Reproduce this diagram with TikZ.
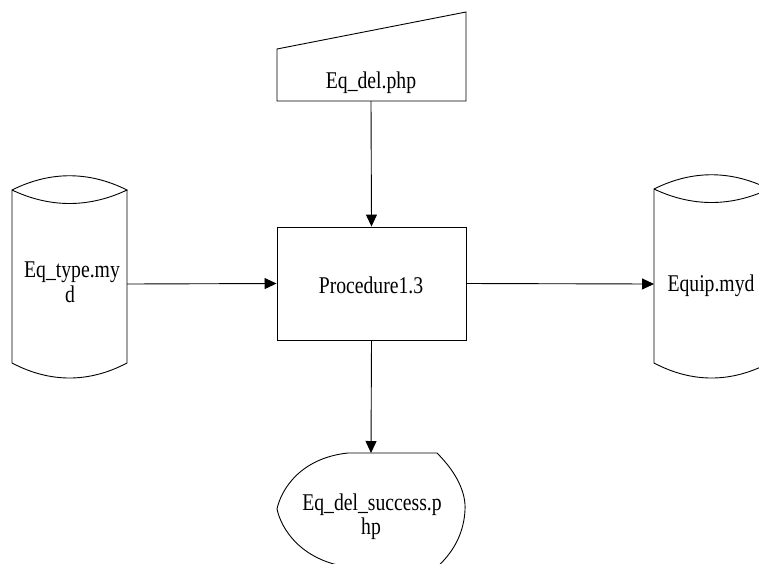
\documentclass[tikz,border=0pt]{standalone}
\usepackage{fontspec}
\setmainfont{Liberation Serif}[FakeStretch=0.82]
\usetikzlibrary{arrows.meta}
\begin{document}
\begin{tikzpicture}[x=1pt,y=-1pt,
  shp/.style={draw=black,line width=0.9pt,line join=miter},
  lbl/.style={font=\fontsize{24}{24}\selectfont,anchor=base,inner sep=0pt},
  conn/.style={draw=black,line width=0.9pt,-{Triangle[length=12pt,width=11pt]}}]
\clip (0,0) rectangle (759,563);
\fill[white] (0,0) rectangle (759,563);
% manual input
\draw[shp] (277,49) -- (466,12) -- (466,101) -- (277,101) -- cycle;
\node[lbl] (inp) at (371,88) {Eq\_del.php};
\coordinate (inpB) at (371,101);
% process
\node[shp,minimum width=189pt,minimum height=113pt,inner sep=0pt] (proc) at (371.5,283.5) {};
\node[lbl] (procT) at (371,293) {Procedure1.3};
% left cylinder
\draw[shp] (12,190) .. controls (50,171) and (89,171) .. (127,190)
  .. controls (89,208) and (50,208) .. (12,190) -- (12,363)
  .. controls (50,383) and (89,383) .. (127,363) -- (127,190);
\node[lbl] (lt1) at (72,277) {Eq\_type.my};
\node[lbl] (lt2) at (70,302) {d};
\coordinate (lcR) at (127,284);
% right cylinder
\draw[shp] (654,189) .. controls (692,170) and (731,170) .. (769,189)
  .. controls (731,207) and (692,207) .. (654,189) -- (654,363)
  .. controls (692,383) and (731,383) .. (769,363) -- (769,189);
\node[lbl] (rt) at (711,291) {Equip.myd};
\coordinate (rcL) at (654,284);
% display
\draw[shp] (348,453) -- (437,453)
  .. controls (458,474) and (466,494) .. (465,510)
  .. controls (464,530) and (456,550) .. (437,567)
  -- (348,567)
  .. controls (300,560) and (281,528) .. (277,509)
  .. controls (281,490) and (300,458) .. (348,453);
\node[lbl] (dt1) at (372,510) {Eq\_del\_success.p};
\node[lbl] (dt2) at (371,534) {hp};
\coordinate (dispT) at (371,453);
% connectors
\draw[conn] (inpB) -- (proc.north);
\draw[conn] (lcR) -- (proc.west);
\draw[conn] (proc.east) -- (rcL);
\draw[conn] (proc.south) -- (dispT);
\end{tikzpicture}
\end{document}
